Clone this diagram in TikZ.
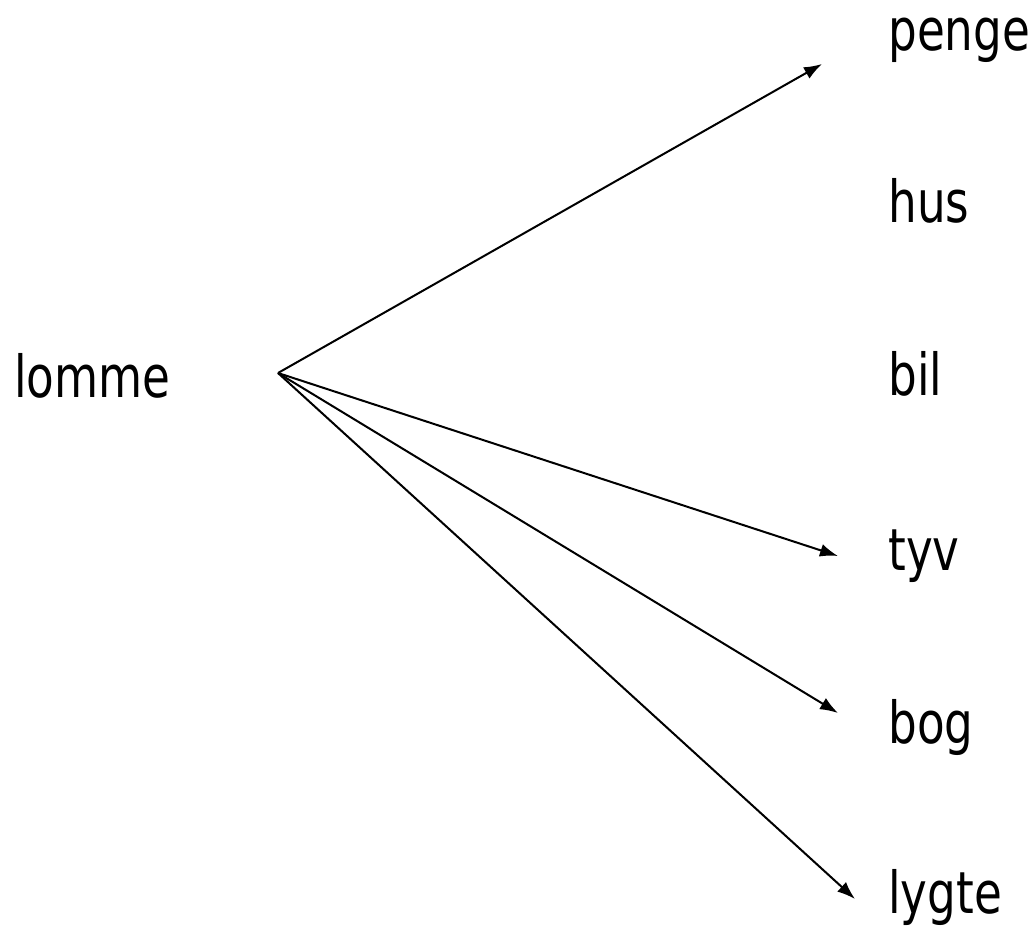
\documentclass[tikz,border=0pt]{standalone}
\usepackage{fontspec}
\setmainfont[FakeStretch=0.78]{DejaVu Sans}
\usetikzlibrary{arrows.meta}
\begin{document}
\begin{tikzpicture}[x=0.5pt,y=-0.5pt,
  word/.style={anchor=base west,inner sep=0pt,font=\fontsize{29}{34}\selectfont},
  link/.style={line width=1pt,-{Latex[length=9pt,width=6.5pt]}}]
\useasboundingbox (0,0) rectangle (1031,932);
\node[word] (lomme) at (14,397) {lomme};
\node[word] (penge) at (888,50) {penge};
\node[word] (hus) at (888,222) {hus};
\node[word] (bil) at (888,395) {bil};
\node[word] (tyv) at (888,570) {tyv};
\node[word] (bog) at (888,743) {bog};
\node[word] (lygte) at (888,913) {lygte};
\coordinate (o) at (278,373);
\coordinate (tp) at (822,64);
\coordinate (tt) at (838,556);
\coordinate (tb) at (838,713);
\coordinate (tl) at (855,899);
\draw[link] (o) -- (tp);
\draw[link] (o) -- (tt);
\draw[link] (o) -- (tb);
\draw[link] (o) -- (tl);
\end{tikzpicture}
\end{document}
